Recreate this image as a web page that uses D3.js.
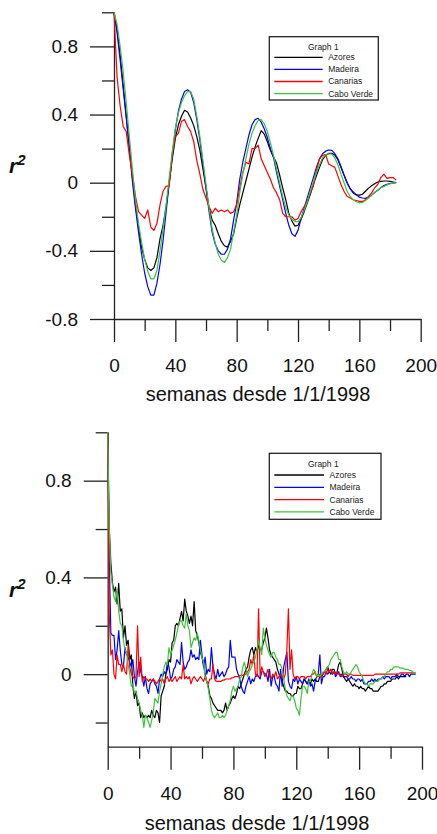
<!DOCTYPE html>
<html>
<head>
<meta charset="utf-8">
<script src="https://cdn.jsdelivr.net/npm/d3@7"></script>
<style>
  body { margin: 0; background: #fff; }
  svg { display: block; font-family: "Liberation Sans", Arial, sans-serif; }
</style>
</head>
<body>
<div id="chart"></div>
<script>
// ---- data: weekly lag (top panel sampled every 2 weeks, bottom every week) ----
const topWeeks = d3.range(0, 185, 2);
const bottomWeeks = d3.range(0, 197);

const seriesNames = ["Azores", "Madeira", "Canarias", "Cabo Verde"];
const seriesColors = ["#000000", "#0000ff", "#ff0000", "#3cc43c"];

const topAzores = [
  1.0, 0.9, 0.75, 0.57, 0.39, 0.21, 0.03, -0.13, -0.26, -0.38,
  -0.45, -0.5, -0.515, -0.5, -0.44, -0.33, -0.25, -0.14, 0.0, 0.14,
  0.26, 0.34, 0.39, 0.425, 0.415, 0.38, 0.335, 0.27, 0.19, 0.08,
  -0.03, -0.15, -0.22, -0.25, -0.3, -0.345, -0.37, -0.378, -0.345, -0.3,
  -0.21, -0.13, -0.06, 0.01, 0.08, 0.15, 0.21, 0.26, 0.305, 0.285,
  0.24, 0.19, 0.15, 0.115, 0.045, -0.03, -0.1, -0.18, -0.225, -0.255,
  -0.25, -0.215, -0.17, -0.12, -0.07, -0.01, 0.04, 0.09, 0.135, 0.16,
  0.172, 0.172, 0.162, 0.135, 0.09, 0.045, 0.0, -0.035, -0.06, -0.072,
  -0.073, -0.068, -0.05, -0.032, -0.018, -0.006, 0.004, 0.008, 0.01, 0.01,
  0.008, 0.004, 0.0
];
const topMadeira = [
  1.0, 0.88, 0.72, 0.55, 0.38, 0.2, 0.01, -0.15, -0.29, -0.42,
  -0.53, -0.61, -0.66, -0.66, -0.59, -0.48, -0.34, -0.17, 0.0, 0.16,
  0.31, 0.42, 0.49, 0.535, 0.545, 0.53, 0.47, 0.37, 0.25, 0.11,
  -0.03, -0.17, -0.29, -0.36, -0.4, -0.42, -0.42, -0.39, -0.33, -0.22,
  -0.12, 0.02, 0.12, 0.2, 0.28, 0.34, 0.37, 0.378, 0.355, 0.315,
  0.265, 0.2, 0.15, 0.06, -0.02, -0.1, -0.18, -0.25, -0.3, -0.315,
  -0.28, -0.21, -0.15, -0.09, -0.03, 0.03, 0.09, 0.14, 0.17, 0.185,
  0.192, 0.19, 0.17, 0.14, 0.095, 0.045, 0.0, -0.035, -0.055, -0.07,
  -0.085, -0.09, -0.092, -0.085, -0.073, -0.058, -0.045, -0.03, -0.017, -0.01,
  -0.005, -0.002, 0.0
];
const topCanarias = [
  1.0, 0.62, 0.45, 0.33, 0.3, 0.16, 0.05, -0.08, -0.17, -0.19,
  -0.21, -0.16, -0.26, -0.28, -0.24, -0.13, -0.05, -0.02, -0.02, 0.17,
  0.27, 0.29, 0.36, 0.37, 0.33, 0.3, 0.24, 0.13, 0.05, -0.04,
  -0.09, -0.14, -0.18, -0.15, -0.17, -0.16, -0.17, -0.16, -0.18, -0.17,
  -0.13, -0.03, 0.06, 0.12, 0.11, 0.2, 0.2, 0.22, 0.14, 0.1,
  0.06, 0.02, -0.03, -0.06, -0.1, -0.18, -0.2, -0.2, -0.2, -0.22,
  -0.21, -0.17, -0.14, -0.11, -0.06, -0.02, 0.07, 0.14, 0.16, 0.165,
  0.11, 0.1, 0.09, 0.04, -0.01, -0.05, -0.08, -0.09, -0.1, -0.105,
  -0.11, -0.11, -0.1, -0.08, -0.06, -0.03, -0.01, 0.03, 0.05, 0.025,
  0.03, 0.03, 0.015
];
const topCaboVerde = [
  1.0, 0.93, 0.8, 0.65, 0.47, 0.27, 0.08, -0.1, -0.24, -0.35,
  -0.45, -0.52, -0.565, -0.565, -0.515, -0.4, -0.27, -0.13, 0.03, 0.18,
  0.32, 0.41, 0.47, 0.51, 0.535, 0.535, 0.49, 0.39, 0.27, 0.13,
  -0.01, -0.15, -0.27, -0.355, -0.42, -0.455, -0.468, -0.44, -0.39, -0.29,
  -0.19, -0.06, 0.05, 0.14, 0.225, 0.29, 0.335, 0.365, 0.37, 0.345,
  0.3, 0.235, 0.16, 0.08, 0.0, -0.08, -0.145, -0.19, -0.215, -0.228,
  -0.228, -0.205, -0.16, -0.11, -0.05, 0.005, 0.06, 0.105, 0.145, 0.165,
  0.17, 0.168, 0.145, 0.105, 0.05, 0.0, -0.05, -0.08, -0.1, -0.112,
  -0.117, -0.117, -0.105, -0.09, -0.073, -0.058, -0.043, -0.03, -0.022, -0.013,
  -0.006, -0.002, 0.0
];

const bottomAzores = [
  1.0, 0.6, 0.46, 0.38, 0.34, 0.36, 0.29, 0.375, 0.26, 0.27,
  0.15, 0.2, 0.12, 0.14, 0.06, 0.08, -0.05, -0.1, -0.07, -0.13,
  -0.12, -0.18, -0.16, -0.18, -0.17, -0.18, -0.17, -0.18, -0.15, -0.17,
  -0.18, -0.15, -0.16, -0.2, -0.09, -0.07, -0.05, 0.0, 0.02, 0.06,
  0.05, 0.13, 0.14, 0.2, 0.21, 0.2, 0.23, 0.26, 0.22, 0.31,
  0.26, 0.24, 0.21, 0.24, 0.2, 0.3, 0.18, 0.16, 0.13, 0.09,
  0.07, 0.04, 0.0, -0.03, -0.05, -0.09, -0.1, -0.12, -0.13, -0.14,
  -0.15, -0.15, -0.15, -0.16, -0.15, -0.12, -0.15, -0.13, -0.12, -0.1,
  -0.09, -0.1, -0.08, -0.05, -0.06, -0.04, -0.02, 0.0, 0.02, 0.03,
  0.07, 0.1, 0.11, 0.08, 0.11, 0.09, 0.12, 0.1, 0.1, 0.13,
  0.15, 0.19, 0.15, 0.1, 0.08, 0.07, 0.06, 0.05, 0.02, 0.0,
  -0.01, -0.03, -0.05, -0.07, -0.07, -0.08, -0.08, -0.09, -0.09, -0.08,
  -0.08, -0.05, -0.06, -0.06, -0.04, -0.02, -0.03, -0.04, -0.03, -0.04,
  -0.02, -0.03, -0.02, -0.03, -0.03, -0.01, -0.01, 0.0, 0.01, 0.02,
  0.03, 0.01, 0.0, 0.02, 0.02, 0.0, 0.01, 0.04, 0.05, 0.02,
  -0.01, -0.02, -0.03, -0.02, -0.03, -0.04, -0.05, -0.04, -0.05, -0.05,
  -0.06, -0.05, -0.06, -0.06, -0.07, -0.06, -0.05, -0.06, -0.06, -0.07,
  -0.07, -0.07, -0.07, -0.06, -0.05, -0.05, -0.04, -0.04, -0.03, -0.03,
  -0.03, -0.02, -0.02, -0.02, -0.01, -0.02, -0.01, -0.01, -0.01, -0.01,
  -0.01
];
const bottomMadeira = [
  1.0, 0.47, 0.17, 0.16, 0.16, 0.06, 0.1, 0.18, 0.1, 0.04,
  0.03, 0.11, 0.08, 0.07, 0.05, 0.03, 0.06, -0.01, -0.05, 0.01,
  0.05, 0.01, -0.01, -0.05, -0.01, -0.06, -0.08, -0.04, -0.03, -0.02,
  -0.04, -0.05, -0.08, -0.02, 0.0, -0.01, 0.01, 0.0, 0.05, 0.03,
  -0.02, -0.01, 0.02, 0.03, 0.06, 0.05, 0.04, 0.13, 0.05, 0.02,
  0.03, 0.05, 0.06, 0.1, 0.07, 0.08, 0.06, 0.07, 0.06, 0.14,
  0.08, 0.03, 0.07, 0.0, 0.02, 0.01, 0.11, 0.03, 0.0, -0.02,
  0.02, -0.01, 0.0, 0.01, -0.01, 0.0, 0.02, 0.03, 0.14, 0.07,
  0.07, 0.07, 0.02, 0.0, -0.02, -0.05, -0.07, -0.08, -0.05, -0.03,
  -0.01, -0.04, -0.02, -0.03, -0.01, 0.0, -0.01, -0.02, 0.01, 0.01,
  0.0, 0.0, -0.03, 0.02, -0.05, -0.01, -0.01, -0.04, -0.05, -0.07,
  0.02, -0.05, 0.03, 0.06, 0.09, -0.03, -0.05, -0.06, -0.02, -0.03,
  -0.01, -0.04, -0.02, -0.03, -0.04, -0.02, -0.03, -0.04, -0.02, -0.05,
  -0.04, -0.07, -0.03, -0.01, 0.0, 0.08, -0.04, -0.01, -0.01, 0.01,
  0.0, 0.01, 0.02, 0.0, 0.01, -0.01, 0.0, 0.01, -0.01, 0.0,
  -0.01, -0.01, -0.01, -0.02, -0.02, -0.01, -0.02, -0.02, -0.03, -0.02,
  -0.02, -0.03, -0.02, -0.04, -0.04, -0.04, -0.03, -0.03, -0.02, -0.03,
  -0.02, -0.03, -0.02, -0.02, -0.02, -0.01, -0.02, -0.01, -0.01, -0.01,
  -0.02, -0.01, -0.01, -0.01, 0.0, -0.01, -0.01, 0.0, 0.0, -0.01,
  0.0, 0.0, -0.01, 0.0, 0.0, 0.0, 0.0
];
const bottomCanarias = [
  1.0, 0.25, 0.08, 0.1, 0.0, -0.02, 0.08, 0.04, 0.04, 0.01,
  0.04, 0.01, 0.0, 0.12, 0.03, 0.0, -0.01, -0.02, -0.01, 0.2,
  -0.01, 0.07, -0.03, -0.01, -0.02, -0.02, -0.03, -0.02, -0.03, -0.02,
  -0.03, -0.04, -0.03, -0.02, -0.03, -0.02, -0.04, -0.02, -0.01, -0.03,
  -0.02, -0.03, -0.02, -0.01, -0.03, -0.02, -0.01, -0.02, 0.04, -0.02,
  -0.01, -0.02, -0.01, -0.04, -0.02, -0.01, -0.02, -0.03, -0.02, -0.01,
  -0.02, -0.03, -0.01, -0.03, -0.04, -0.02, -0.02, 0.04, -0.02, -0.03,
  -0.03, -0.03, -0.03, -0.025, -0.025, -0.02, -0.02, -0.02, -0.02, -0.015,
  -0.015, -0.01, -0.01, -0.01, -0.005, -0.005, -0.005, 0.0, 0.0, 0.01,
  0.02, 0.06, 0.04, 0.08, 0.0, -0.01, 0.27, -0.01, 0.03, 0.01,
  -0.01, 0.0, 0.02, -0.01, -0.02, 0.0, -0.01, 0.01, -0.02, -0.01,
  0.0, -0.01, -0.02, 0.0, 0.1, 0.27, 0.02, 0.1, 0.0, -0.02,
  -0.01, -0.01, -0.02, -0.01, -0.01, -0.01, -0.02, -0.01, -0.01, -0.01,
  0.0, 0.0, 0.01, -0.01, -0.01, 0.0, -0.01, 0.0, 0.01, 0.0,
  0.02, 0.01, 0.02, 0.0, 0.01, 0.0, 0.01, 0.0, 0.0, -0.01,
  0.0, 0.0, 0.0, -0.01, 0.0, 0.0, -0.005, -0.005, -0.005, -0.005,
  -0.005, -0.005, -0.005, -0.005, -0.005, -0.005, -0.005, -0.005, -0.005, -0.005,
  0.0, 0.0, 0.0, 0.0, 0.0, 0.0, 0.0, 0.0, 0.0, 0.0,
  0.0, 0.0, 0.0, 0.0, 0.0, 0.0, 0.005, 0.005, 0.005, 0.005,
  0.005, 0.005, 0.005, 0.005, 0.005, 0.005, 0.005
];
const bottomCaboVerde = [
  1.0, 0.6, 0.42, 0.37, 0.32, 0.3, 0.35, 0.26, 0.21, 0.2,
  0.14, 0.1, 0.09, 0.04, 0.0, -0.05, -0.04, -0.08, -0.07, -0.1,
  -0.12, -0.15, -0.17, -0.22, -0.17, -0.18, -0.2, -0.22, -0.19, -0.16,
  -0.1, -0.11, -0.12, -0.07, -0.04, 0.0, 0.03, 0.05, 0.04, 0.11,
  0.08, 0.1, 0.12, 0.14, 0.17, 0.2, 0.22, 0.22, 0.2, 0.19,
  0.25, 0.2, 0.18, 0.11, 0.13, 0.15, 0.14, 0.17, 0.14, 0.1,
  0.07, 0.05, -0.01, -0.03, -0.06, -0.1, -0.15, -0.17, -0.18, -0.17,
  -0.16, -0.18, -0.18, -0.17, -0.18, -0.17, -0.15, -0.13, -0.11, -0.07,
  -0.05, -0.07, -0.06, -0.05, -0.02, -0.01, 0.03, 0.05, 0.02, -0.01,
  0.01, 0.02, 0.04, 0.05, 0.07, 0.1, 0.14, 0.11, 0.08, 0.19,
  0.15, 0.12, 0.1, 0.08, 0.07, 0.09, 0.09, 0.07, 0.06, 0.04,
  0.04, 0.02, -0.02, -0.06, -0.09, -0.1, -0.11, -0.09, -0.09, -0.11,
  -0.14, -0.15, -0.17, -0.1, -0.05, -0.05, -0.06, -0.08, -0.03, -0.03,
  0.0, 0.02, 0.01, -0.01, 0.0, -0.01, 0.0, 0.01, 0.01, 0.02,
  0.03, 0.04, 0.06, 0.07, 0.08, 0.09, 0.09, 0.06, 0.06, 0.03,
  0.01, 0.0, 0.01, 0.0, 0.0, 0.01, 0.02, 0.03, 0.04, 0.03,
  0.01, 0.0, -0.01, -0.03, -0.04, -0.04, -0.05, -0.04, -0.04, -0.04,
  -0.03, -0.03, -0.03, -0.02, -0.02, -0.01, -0.01, 0.0, 0.01, 0.01,
  0.02, 0.02, 0.03, 0.03, 0.03, 0.03, 0.025, 0.025, 0.025, 0.02,
  0.02, 0.02, 0.015, 0.015, 0.01, 0.005, 0.0
];

const xMajorTicks = [0, 40, 80, 120, 160, 200];
const xMinorTicks = [20, 60, 100, 140, 180];
const topYMajor = [-0.8, -0.4, 0, 0.4, 0.8];
const topYMinor = [-0.6, -0.2, 0.2, 0.6, 1.0];
const bottomYMajor = [0, 0.4, 0.8];
const bottomYMinor = [-0.2, 0.2, 0.6, 1.0];

const xTitle = "semanas desde 1/1/1998";
const legendTitle = "Graph 1";

// ---- drawing ----
const svg = d3.select("#chart").append("svg")
    .attr("width", 437)
    .attr("height", 834);

svg.append("rect").attr("width", 437).attr("height", 834).attr("fill", "#fff");

function drawPanel(cfg) {
    const g = svg.append("g");

    const x = d3.scaleLinear().domain([0, 200]).range([cfg.x0, cfg.x1]);
    const y = d3.scaleLinear().domain(cfg.yDomain).range([cfg.yBottom, cfg.yTop]);

    const fmt = d => d === 0 ? "0" : d.toFixed(1);

    // y axis: major + minor ticks
    g.append("g")
        .attr("transform", `translate(${cfg.x0},0)`)
        .call(d3.axisLeft(y).tickValues(cfg.yMajor).tickSize(24).tickSizeOuter(0)
            .tickPadding(12).tickFormat(fmt))
        .call(a => a.selectAll("text").attr("font-size", 19).attr("fill", "#111")
            .attr("font-family", "Liberation Sans, Arial, sans-serif"));
    g.append("g")
        .attr("transform", `translate(${cfg.x0},0)`)
        .call(d3.axisLeft(y).tickValues(cfg.yMinor).tickSize(12).tickSizeOuter(0).tickFormat(""))
        .call(a => a.select(".domain").remove());

    // x axis
    g.append("g")
        .attr("transform", `translate(0,${cfg.yBottom})`)
        .call(d3.axisBottom(x).tickValues(xMajorTicks).tickSize(23).tickSizeOuter(0)
            .tickPadding(17))
        .call(a => a.selectAll("text").attr("font-size", 19).attr("fill", "#111")
            .attr("font-family", "Liberation Sans, Arial, sans-serif"));
    g.append("g")
        .attr("transform", `translate(0,${cfg.yBottom})`)
        .call(d3.axisBottom(x).tickValues(xMinorTicks).tickSize(12).tickSizeOuter(0).tickFormat(""))
        .call(a => a.select(".domain").remove());

    g.selectAll(".domain, .tick line")
        .attr("stroke", "#222")
        .attr("stroke-width", 1.3);

    // axis titles
    g.append("text")
        .attr("x", cfg.titleX)
        .attr("y", cfg.titleY)
        .attr("text-anchor", "middle")
        .attr("font-size", 20)
        .attr("fill", "#111")
        .text(xTitle);

    const rLabel = g.append("text")
        .attr("x", 9)
        .attr("y", cfg.rY)
        .attr("font-size", 21)
        .attr("font-weight", "bold")
        .attr("font-style", "italic")
        .attr("fill", "#111");
    rLabel.append("tspan").text("r");
    rLabel.append("tspan").attr("dy", -8).attr("font-size", 15).text("2");

    // series lines
    const line = d3.line()
        .x((d, i) => x(cfg.weeks[i]))
        .y(d => y(d));

    cfg.series.forEach((s, k) => {
        g.append("path")
            .datum(s)
            .attr("fill", "none")
            .attr("stroke", seriesColors[k])
            .attr("stroke-width", 1.2)
            .attr("stroke-linejoin", "round")
            .attr("d", line);
    });

    // legend
    const lg = g.append("g").attr("transform", `translate(${cfg.legend.x},${cfg.legend.y})`);
    lg.append("rect")
        .attr("width", cfg.legend.w)
        .attr("height", cfg.legend.h)
        .attr("fill", "#fff")
        .attr("stroke", "#222")
        .attr("stroke-width", 1.3);
    lg.append("text")
        .attr("x", 54)
        .attr("y", 13.5)
        .attr("text-anchor", "middle")
        .attr("font-size", 8.5)
        .attr("fill", "#222")
        .text(legendTitle);
    seriesNames.forEach((name, k) => {
        const ry = cfg.legend.row0 + k * cfg.legend.rowStep;
        lg.append("line")
            .attr("x1", 5).attr("x2", cfg.legend.lineEnd)
            .attr("y1", ry).attr("y2", ry)
            .attr("stroke", seriesColors[k])
            .attr("stroke-width", 1.3);
        lg.append("text")
            .attr("x", cfg.legend.lineEnd + 5.5)
            .attr("y", ry + 3)
            .attr("font-size", 8.5)
            .attr("fill", "#222")
            .text(name);
    });
}

drawPanel({
    weeks: topWeeks,
    series: [topAzores, topMadeira, topCanarias, topCaboVerde],
    yDomain: [-0.8, 1.0],
    yMajor: topYMajor,
    yMinor: topYMinor,
    x0: 114, x1: 420.7,
    yTop: 12.3, yBottom: 319,
    titleX: 258, titleY: 401,
    rY: 173,
    legend: { x: 269.3, y: 36.7, w: 109, h: 63.3, row0: 20.6, rowStep: 12.1, lineEnd: 53.4 }
});

drawPanel({
    weeks: bottomWeeks,
    series: [bottomAzores, bottomMadeira, bottomCanarias, bottomCaboVerde],
    yDomain: [-0.3, 1.0],
    yMajor: bottomYMajor,
    yMinor: bottomYMinor,
    x0: 107.7, x1: 422,
    yTop: 432.3, yBottom: 746.7,
    titleX: 257, titleY: 830,
    rY: 597,
    legend: { x: 269.3, y: 453.3, w: 111.7, h: 66, row0: 21.7, rowStep: 12.3, lineEnd: 54.7 }
});
</script>
</body>
</html>
